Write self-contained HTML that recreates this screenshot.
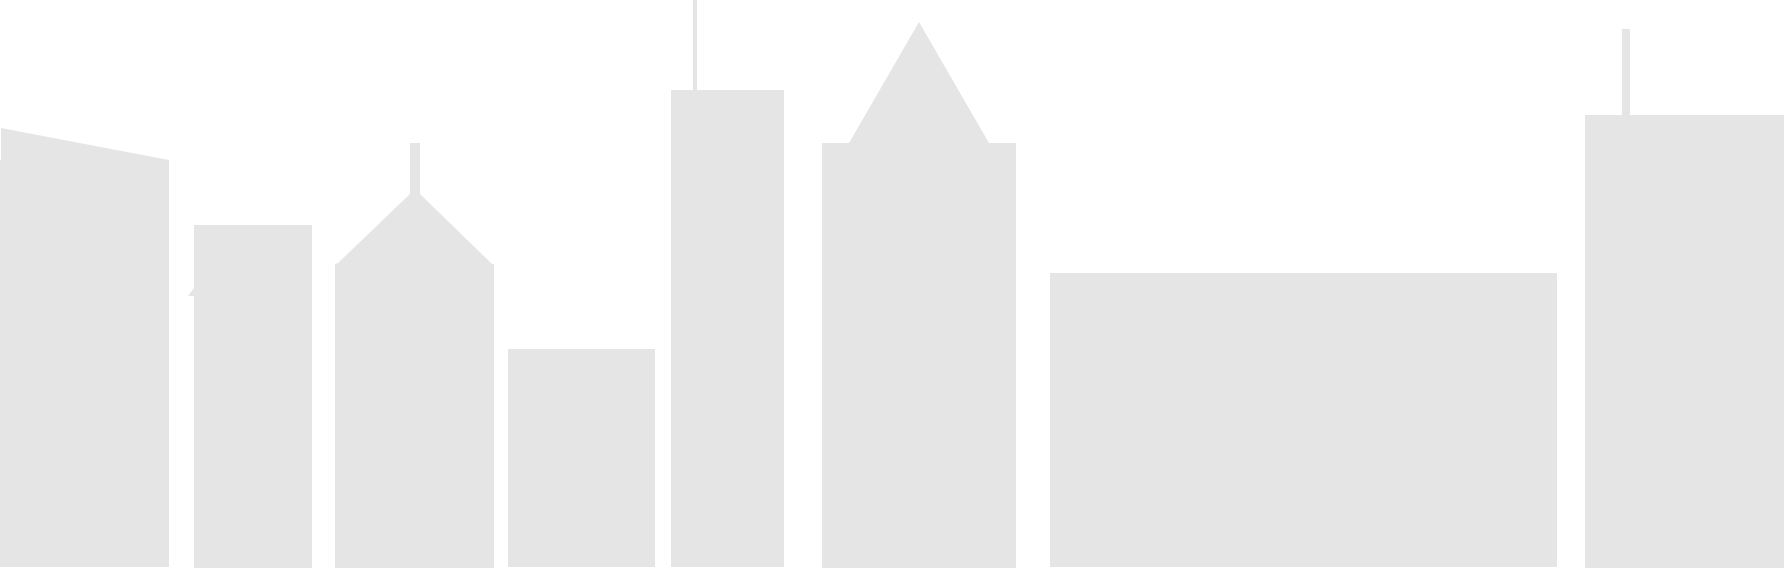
<!DOCTYPE html>
<html>
<head>
<meta charset="utf-8">
<style>
  html,body{margin:0;padding:0;background:#ffffff;}
  svg{display:block;}
</style>
</head>
<body>
<svg width="1784" height="568" viewBox="0 0 1784 568" xmlns="http://www.w3.org/2000/svg">
  <g fill="#e5e5e5">
    <polygon points="1,128 169,160 169,567 0,567 0,160 1,160"/>
    <g>
      <rect x="194" y="225" width="118" height="343"/>
      <polygon points="188,296 194,288 194,296"/>
    </g>
    <g>
      <rect x="410" y="143" width="10" height="53"/>
      <polygon points="335,264 338,263 410,194 420,194 492,264 494,264 494,568 335,568"/>
    </g>
    <rect x="508" y="349" width="147" height="218"/>
    <g>
      <rect x="693" y="0" width="4" height="92"/>
      <rect x="671" y="90" width="113" height="477"/>
    </g>
    <polygon points="822,143 849,143 919,22 989,143 1016,143 1016,568 822,568"/>
    <rect x="1050" y="273" width="507" height="294"/>
    <g>
      <rect x="1622" y="29" width="8" height="88"/>
      <rect x="1585" y="115" width="199" height="453"/>
    </g>
  </g>
</svg>
</body>
</html>
